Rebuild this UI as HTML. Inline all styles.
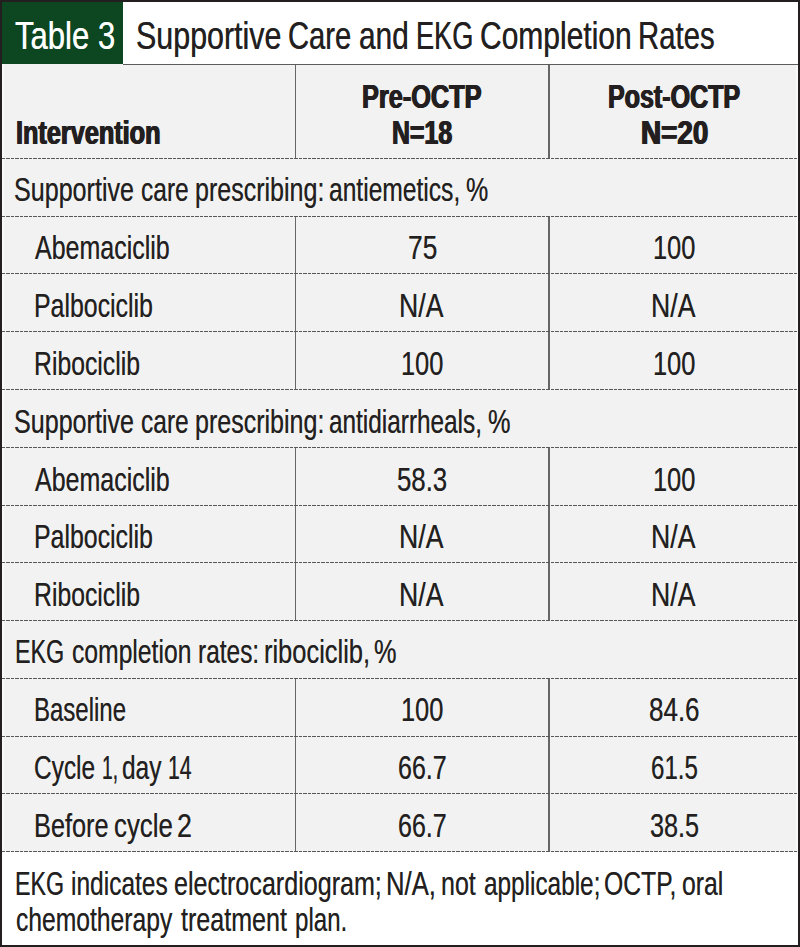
<!DOCTYPE html>
<html><head><meta charset="utf-8"><title>Table 3</title>
<style>
html,body{margin:0;padding:0;background:#fff;}
#pg{position:relative;width:800px;height:947px;overflow:hidden;background:#231f20;font-family:"Liberation Sans",sans-serif;}
#title{position:absolute;left:2px;top:2px;width:796px;height:62px;background:#fff;}
#tag{position:absolute;left:2px;top:2px;width:120.8px;height:62px;background:#0c4721;}
#tline{position:absolute;left:122.8px;top:63.5px;width:675.2px;height:1px;background:#5c5c5c;}
#body{position:absolute;left:2px;top:64px;width:796px;height:787.76px;background:#f2f2f2;box-shadow:inset 2px 0 0 #f9f9f9,inset -2px 0 0 #f9f9f9;}
#foot{position:absolute;left:2px;top:851.76px;width:796px;height:92.99px;background:#fff;}
.t{position:absolute;white-space:nowrap;font-size:33.5px;line-height:33.5px;color:#231f20;transform-origin:0 0;text-shadow:0.25px 0 0 rgba(35,31,32,0.35),-0.25px 0 0 rgba(35,31,32,0.35);}
.b{font-weight:700;}
.hl{position:absolute;left:2px;width:796px;height:1px;background:repeating-linear-gradient(90deg,#585858 0,#585858 3.2px,transparent 3.2px,transparent 4.5px);}
.vl{position:absolute;width:1.3px;background:#666;}
</style></head><body>
<div id="pg">
<div id="title"></div><div id="body"></div><div id="foot"></div>
<div id="tag"></div><div id="tline"></div>
<div class="vl" style="left:294.50px;top:64.50px;height:93.90px"></div>
<div class="vl" style="left:548.40px;top:64.50px;height:93.90px"></div>
<div class="vl" style="left:294.50px;top:216.18px;height:173.34px"></div>
<div class="vl" style="left:548.40px;top:216.18px;height:173.34px"></div>
<div class="vl" style="left:294.50px;top:447.30px;height:173.34px"></div>
<div class="vl" style="left:548.40px;top:447.30px;height:173.34px"></div>
<div class="vl" style="left:294.50px;top:678.42px;height:173.34px"></div>
<div class="vl" style="left:548.40px;top:678.42px;height:173.34px"></div>
<div class="hl" style="top:158px"></div>
<div class="hl" style="top:216px"></div>
<div class="hl" style="top:273px"></div>
<div class="hl" style="top:331px"></div>
<div class="hl" style="top:389px"></div>
<div class="hl" style="top:447px"></div>
<div class="hl" style="top:505px"></div>
<div class="hl" style="top:562px"></div>
<div class="hl" style="top:620px"></div>
<div class="hl" style="top:678px"></div>
<div class="hl" style="top:736px"></div>
<div class="hl" style="top:793px"></div>
<div class="hl" style="top:851px"></div>
<span class="t" style="left:15.45px;top:17.00px;transform:scaleX(0.8067);font-size:38.5px;line-height:38.5px;color:#ffffff;text-shadow:0.25px 0 0 rgba(255,255,255,0.5),-0.25px 0 0 rgba(255,255,255,0.5);">Table 3</span>
<span class="t" style="left:136.38px;top:17.00px;transform:scaleX(0.7902);font-size:38.5px;line-height:38.5px;text-shadow:0.25px 0 0 rgba(35,31,32,0.5),-0.25px 0 0 rgba(35,31,32,0.5);">Supportive</span>
<span class="t" style="left:288.05px;top:17.00px;transform:scaleX(0.7575);font-size:38.5px;line-height:38.5px;text-shadow:0.25px 0 0 rgba(35,31,32,0.5),-0.25px 0 0 rgba(35,31,32,0.5);">Care</span>
<span class="t" style="left:358.82px;top:17.00px;transform:scaleX(0.7745);font-size:38.5px;line-height:38.5px;text-shadow:0.25px 0 0 rgba(35,31,32,0.5),-0.25px 0 0 rgba(35,31,32,0.5);">and</span>
<span class="t" style="left:415.97px;top:17.00px;transform:scaleX(0.7053);font-size:38.5px;line-height:38.5px;text-shadow:0.25px 0 0 rgba(35,31,32,0.5),-0.25px 0 0 rgba(35,31,32,0.5);">EKG</span>
<span class="t" style="left:480.11px;top:17.00px;transform:scaleX(0.7789);font-size:38.5px;line-height:38.5px;text-shadow:0.25px 0 0 rgba(35,31,32,0.5),-0.25px 0 0 rgba(35,31,32,0.5);">Completion</span>
<span class="t" style="left:638.31px;top:17.00px;transform:scaleX(0.7618);font-size:38.5px;line-height:38.5px;text-shadow:0.25px 0 0 rgba(35,31,32,0.5),-0.25px 0 0 rgba(35,31,32,0.5);">Rates</span>
<span class="t b" style="left:16.23px;top:116.00px;transform:scaleX(0.7539);text-shadow:0.8px 0 0 rgba(35,31,32,1),-0.8px 0 0 rgba(35,31,32,1);">Intervention</span>
<span class="t b" style="left:362.03px;top:80.00px;transform:scaleX(0.7555);text-shadow:0.8px 0 0 rgba(35,31,32,1),-0.8px 0 0 rgba(35,31,32,1);">Pre-OCTP</span>
<span class="t b" style="left:392.45px;top:116.00px;transform:scaleX(0.7420);text-shadow:0.8px 0 0 rgba(35,31,32,1),-0.8px 0 0 rgba(35,31,32,1);">N=18</span>
<span class="t b" style="left:607.84px;top:80.00px;transform:scaleX(0.7473);text-shadow:0.8px 0 0 rgba(35,31,32,1),-0.8px 0 0 rgba(35,31,32,1);">Post-OCTP</span>
<span class="t b" style="left:641.31px;top:116.00px;transform:scaleX(0.8307);text-shadow:0.8px 0 0 rgba(35,31,32,1),-0.8px 0 0 rgba(35,31,32,1);">N=20</span>
<span class="t" style="left:14.38px;top:173.00px;transform:scaleX(0.7490);">Supportive</span>
<span class="t" style="left:141.18px;top:173.00px;transform:scaleX(0.7327);">care</span>
<span class="t" style="left:194.81px;top:173.00px;transform:scaleX(0.7471);">prescribing:</span>
<span class="t" style="left:329.27px;top:173.00px;transform:scaleX(0.7343);">antiemetics,</span>
<span class="t" style="left:466.30px;top:173.00px;transform:scaleX(0.7473);">%</span>
<span class="t" style="left:35.14px;top:231.00px;transform:scaleX(0.7460);">Abemaciclib</span>
<span class="t" style="left:407.63px;top:231.00px;transform:scaleX(0.7860);">75</span>
<span class="t" style="left:652.69px;top:231.00px;transform:scaleX(0.7579);">100</span>
<span class="t" style="left:33.83px;top:289.00px;transform:scaleX(0.7427);">Palbociclib</span>
<span class="t" style="left:399.14px;top:289.00px;transform:scaleX(0.7959);">N/A</span>
<span class="t" style="left:650.94px;top:289.00px;transform:scaleX(0.7959);">N/A</span>
<span class="t" style="left:33.84px;top:347.00px;transform:scaleX(0.7394);">Ribociclib</span>
<span class="t" style="left:400.89px;top:347.00px;transform:scaleX(0.7579);">100</span>
<span class="t" style="left:652.69px;top:347.00px;transform:scaleX(0.7579);">100</span>
<span class="t" style="left:14.38px;top:405.00px;transform:scaleX(0.7490);">Supportive</span>
<span class="t" style="left:141.18px;top:405.00px;transform:scaleX(0.7327);">care</span>
<span class="t" style="left:194.81px;top:405.00px;transform:scaleX(0.7471);">prescribing:</span>
<span class="t" style="left:329.28px;top:405.00px;transform:scaleX(0.7270);">antidiarrheals,</span>
<span class="t" style="left:488.10px;top:405.00px;transform:scaleX(0.7544);">%</span>
<span class="t" style="left:35.14px;top:463.00px;transform:scaleX(0.7460);">Abemaciclib</span>
<span class="t" style="left:397.27px;top:463.00px;transform:scaleX(0.7694);">58.3</span>
<span class="t" style="left:652.69px;top:463.00px;transform:scaleX(0.7579);">100</span>
<span class="t" style="left:33.83px;top:520.00px;transform:scaleX(0.7427);">Palbociclib</span>
<span class="t" style="left:399.14px;top:520.00px;transform:scaleX(0.7959);">N/A</span>
<span class="t" style="left:650.94px;top:520.00px;transform:scaleX(0.7959);">N/A</span>
<span class="t" style="left:33.84px;top:578.00px;transform:scaleX(0.7394);">Ribociclib</span>
<span class="t" style="left:399.14px;top:578.00px;transform:scaleX(0.7959);">N/A</span>
<span class="t" style="left:650.94px;top:578.00px;transform:scaleX(0.7959);">N/A</span>
<span class="t" style="left:15.06px;top:635.00px;transform:scaleX(0.6963);">EKG</span>
<span class="t" style="left:71.77px;top:635.00px;transform:scaleX(0.7369);">completion</span>
<span class="t" style="left:197.99px;top:635.00px;transform:scaleX(0.7301);">rates:</span>
<span class="t" style="left:263.53px;top:635.00px;transform:scaleX(0.7594);">ribociclib,</span>
<span class="t" style="left:374.30px;top:635.00px;transform:scaleX(0.7544);">%</span>
<span class="t" style="left:34.30px;top:693.00px;transform:scaleX(0.7163);">Baseline</span>
<span class="t" style="left:400.89px;top:693.00px;transform:scaleX(0.7579);">100</span>
<span class="t" style="left:649.08px;top:693.00px;transform:scaleX(0.7755);">84.6</span>
<span class="t" style="left:34.43px;top:751.00px;transform:scaleX(0.7297);">Cycle</span>
<span class="t" style="left:101.61px;top:751.00px;transform:scaleX(0.5732);">1,</span>
<span class="t" style="left:122.38px;top:751.00px;transform:scaleX(0.7304);">day</span>
<span class="t" style="left:168.49px;top:751.00px;transform:scaleX(0.6324);">14</span>
<span class="t" style="left:397.99px;top:751.00px;transform:scaleX(0.7469);">66.7</span>
<span class="t" style="left:650.68px;top:751.00px;transform:scaleX(0.7187);">61.5</span>
<span class="t" style="left:34.20px;top:809.00px;transform:scaleX(0.7556);">Before</span>
<span class="t" style="left:114.24px;top:809.00px;transform:scaleX(0.7716);">cycle</span>
<span class="t" style="left:176.83px;top:809.00px;transform:scaleX(0.7997);">2</span>
<span class="t" style="left:397.99px;top:809.00px;transform:scaleX(0.7469);">66.7</span>
<span class="t" style="left:649.81px;top:809.00px;transform:scaleX(0.7527);">38.5</span>
<span class="t" style="left:15.26px;top:867.00px;transform:scaleX(0.6933);">EKG</span>
<span class="t" style="left:70.83px;top:867.00px;transform:scaleX(0.7319);">indicates</span>
<span class="t" style="left:174.26px;top:867.00px;transform:scaleX(0.7492);">electrocardiogram;</span>
<span class="t" style="left:386.47px;top:867.00px;transform:scaleX(0.7663);">N/A,</span>
<span class="t" style="left:441.45px;top:867.00px;transform:scaleX(0.7457);">not</span>
<span class="t" style="left:483.68px;top:867.00px;transform:scaleX(0.7268);">applicable;</span>
<span class="t" style="left:604.48px;top:867.00px;transform:scaleX(0.7375);">OCTP,</span>
<span class="t" style="left:682.02px;top:867.00px;transform:scaleX(0.7391);">oral</span>
<span class="t" style="left:16.27px;top:903.00px;transform:scaleX(0.7360);">chemotherapy</span>
<span class="t" style="left:180.61px;top:903.00px;transform:scaleX(0.7486);">treatment</span>
<span class="t" style="left:294.61px;top:903.00px;transform:scaleX(0.7197);">plan.</span>
</div>
</body></html>
